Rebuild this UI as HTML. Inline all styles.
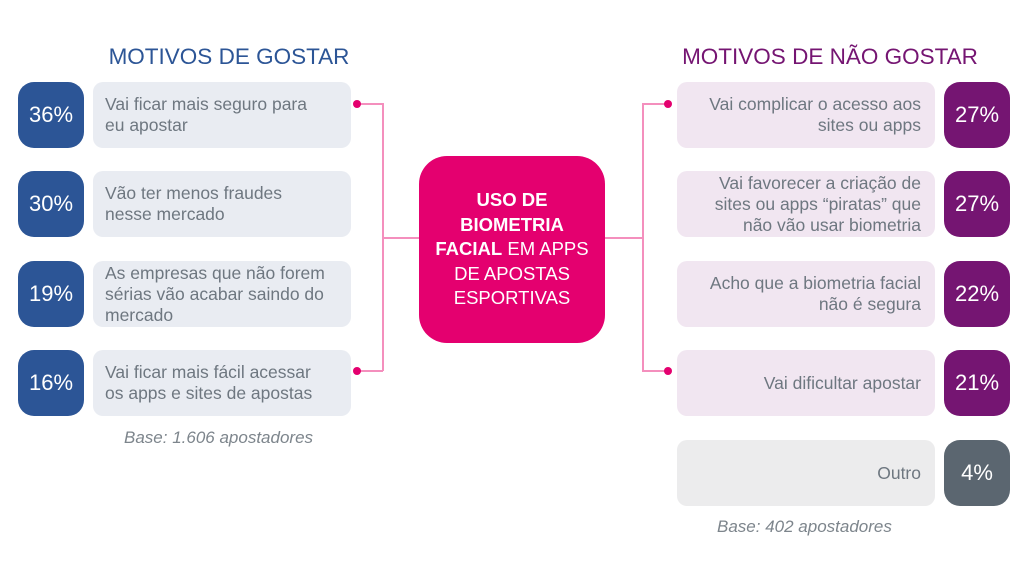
<!DOCTYPE html>
<html><head><meta charset="utf-8"><style>
body{margin:0;width:1024px;height:577px;background:#fff;position:relative;overflow:hidden;font-family:"Liberation Sans",sans-serif}
div{position:absolute;box-sizing:border-box}
.b{width:66px;height:66px;border-radius:16px;color:#fff;font-size:22px;display:flex;align-items:center;justify-content:center}
.bl{left:18px;background:#2c5596}
.br{left:944px;background:#751572}
.t{height:66px;border-radius:10px;font-size:17.5px;line-height:21px;color:#6e7780;display:flex;align-items:center;white-space:nowrap}
.tl{left:93px;width:258px;background:#e9ecf2;padding-left:12px}
.tr{left:677px;width:258px;background:#f1e6f1;padding-right:14px;justify-content:flex-end;text-align:right}
.ln{background:#f48fbd}
.dot{width:8px;height:8px;border-radius:4px;background:#e4006f}
.base{font-style:italic;font-size:17px;color:#7d858c}
</style></head><body>
<div style="left:0;width:458px;top:44px;text-align:center;font-size:22.5px;color:#2c5596">MOTIVOS DE GOSTAR</div>
<div style="left:640px;width:380px;top:44px;text-align:center;font-size:22.5px;color:#751572">MOTIVOS DE NÃO GOSTAR</div>

<div class="ln" style="left:357px;top:103px;width:26px;height:1.5px"></div>
<div class="ln" style="left:382px;top:103px;width:1.5px;height:268px"></div>
<div class="ln" style="left:357px;top:370px;width:26px;height:1.5px"></div>
<div class="ln" style="left:382px;top:237px;width:40px;height:1.5px"></div>
<div class="dot" style="left:353px;top:100px"></div>
<div class="dot" style="left:353px;top:367px"></div>

<div class="ln" style="left:642px;top:103px;width:26px;height:1.5px"></div>
<div class="ln" style="left:642px;top:103px;width:1.5px;height:268px"></div>
<div class="ln" style="left:642px;top:370px;width:26px;height:1.5px"></div>
<div class="ln" style="left:603px;top:237px;width:40px;height:1.5px"></div>
<div class="dot" style="left:664px;top:100px"></div>
<div class="dot" style="left:664px;top:367px"></div>

<div style="left:419px;top:156px;width:186px;height:187px;border-radius:28px;background:#e4006f;color:#fff;font-size:18.5px;line-height:24.5px;text-align:center;display:flex;align-items:center;justify-content:center"><div style="position:static"><b>USO DE<br>BIOMETRIA<br>FACIAL</b> EM APPS<br>DE APOSTAS<br>ESPORTIVAS</div></div>

<div class="b bl" style="top:82px">36%</div>
<div class="t tl" style="top:82px">Vai ficar mais seguro para<br>eu apostar</div>
<div class="b bl" style="top:171px">30%</div>
<div class="t tl" style="top:171px">Vão ter menos fraudes<br>nesse mercado</div>
<div class="b bl" style="top:261px">19%</div>
<div class="t tl" style="top:261px">As empresas que não forem<br>sérias vão acabar saindo do<br>mercado</div>
<div class="b bl" style="top:350px">16%</div>
<div class="t tl" style="top:350px">Vai ficar mais fácil acessar<br>os apps e sites de apostas</div>
<div class="base" style="left:124px;top:428px">Base: 1.606 apostadores</div>

<div class="t tr" style="top:82px">Vai complicar o acesso aos<br>sites ou apps</div>
<div class="b br" style="top:82px">27%</div>
<div class="t tr" style="top:171px">Vai favorecer a criação de<br>sites ou apps “piratas” que<br>não vão usar biometria</div>
<div class="b br" style="top:171px">27%</div>
<div class="t tr" style="top:261px">Acho que a biometria facial<br>não é segura</div>
<div class="b br" style="top:261px">22%</div>
<div class="t tr" style="top:350px">Vai dificultar apostar</div>
<div class="b br" style="top:350px">21%</div>
<div class="t tr" style="top:440px;background:#ececed">Outro</div>
<div class="b br" style="top:440px;background:#5b6670">4%</div>
<div class="base" style="left:717px;top:517px">Base: 402 apostadores</div>
</body></html>
